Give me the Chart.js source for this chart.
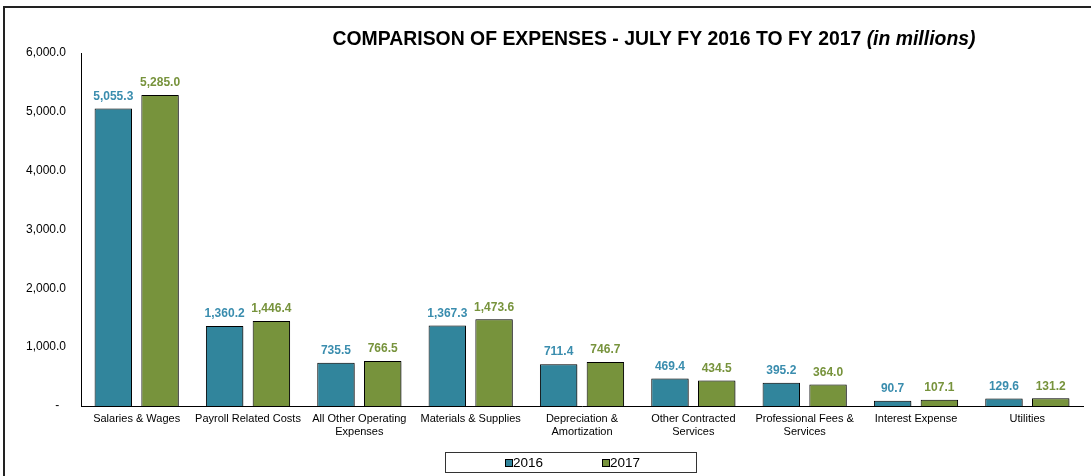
<!DOCTYPE html>
<html>
<head>
<meta charset="utf-8">
<script src="https://cdn.jsdelivr.net/npm/chart.js@4/dist/chart.umd.min.js"></script>
<style>
  html, body { margin: 0; padding: 0; background: #fff; }
  #wrap { width: 1091px; height: 476px; position: relative; }
</style>
</head>
<body>
<div id="wrap"><canvas id="expenseChart"></canvas></div>
<script>
const categories = [
  'Salaries & Wages',
  'Payroll Related Costs',
  ['All Other Operating', 'Expenses'],
  'Materials & Supplies',
  ['Depreciation &', 'Amortization'],
  ['Other Contracted', 'Services'],
  ['Professional Fees &', 'Services'],
  'Interest Expense',
  'Utilities'
];
const fy2016 = [5055.3, 1360.2, 735.5, 1367.3, 711.4, 469.4, 395.2, 90.7, 129.6];
const fy2017 = [5285.0, 1446.4, 766.5, 1473.6, 746.7, 434.5, 364.0, 107.1, 131.2];
const seriesNames = ['2016', '2017'];
const yTicks = [0, 1000, 2000, 3000, 4000, 5000, 6000];

const FONT = '"Liberation Sans", Arial, sans-serif';
const fmt = v => v.toLocaleString('en-US', { minimumFractionDigits: 1, maximumFractionDigits: 1 });

// outer frame (top + left only, like the cropped original)
const framePlugin = {
  id: 'frame',
  beforeDraw(chart) {
    const c = chart.ctx;
    c.save();
    c.strokeStyle = '#222';
    c.lineWidth = 2;
    c.beginPath();
    c.moveTo(4, chart.height);
    c.lineTo(4, 7);
    c.lineTo(chart.width, 7);
    c.stroke();
    c.restore();
  }
};

// title with italic tail
const titlePlugin = {
  id: 'mixedTitle',
  afterDraw(chart) {
    const c = chart.ctx;
    const a = 'COMPARISON OF EXPENSES - JULY FY 2016 TO FY 2017 ';
    const b = '(in millions)';
    c.save();
    c.fillStyle = '#000';
    c.textBaseline = 'alphabetic';
    c.font = 'bold 19.4px ' + FONT;
    const wa = c.measureText(a).width;
    c.font = 'italic bold 19.4px ' + FONT;
    const wb = c.measureText(b).width;
    let x = 654 - (wa + wb) / 2;
    c.font = 'bold 19.4px ' + FONT;
    c.fillText(a, x, 45);
    c.font = 'italic bold 19.4px ' + FONT;
    c.fillText(b, x + wa, 45);
    c.restore();
  }
};

// light shadow behind bars
const shadowPlugin = {
  id: 'barShadow',
  beforeDatasetsDraw(chart) {
    const c = chart.ctx;
    c.save();
    c.shadowColor = 'rgba(0,0,0,0.35)';
    c.shadowOffsetX = 2;
    c.shadowOffsetY = 1;
    c.shadowBlur = 2;
  },
  afterDatasetsDraw(chart) {
    chart.ctx.restore();
  }
};

// values above the bars
const valueLabels = {
  id: 'valueLabels',
  afterDatasetsDraw(chart) {
    const c = chart.ctx;
    c.save();
    c.font = 'bold 12px ' + FONT;
    c.textAlign = 'center';
    c.textBaseline = 'bottom';
    chart.data.datasets.forEach((ds, i) => {
      const meta = chart.getDatasetMeta(i);
      c.fillStyle = ds.labelColor;
      meta.data.forEach((bar, j) => {
        c.fillText(fmt(ds.data[j]), bar.x, bar.y - 6);
      });
    });
    c.restore();
  }
};

// boxed legend at the bottom
const boxLegend = {
  id: 'boxLegend',
  afterDraw(chart) {
    const c = chart.ctx;
    c.save();
    c.strokeStyle = '#333';
    c.lineWidth = 1;
    c.strokeRect(445.5, 452.5, 251, 20);
    c.font = '13.5px ' + FONT;
    c.textBaseline = 'middle';
    c.textAlign = 'left';
    chart.data.datasets.forEach((ds, i) => {
      const x = 505 + i * 97;
      c.fillStyle = ds.backgroundColor;
      c.fillRect(x, 459, 7, 7);
      c.strokeStyle = '#000';
      c.strokeRect(x + 0.5, 459.5, 7, 7);
      c.fillStyle = '#000';
      c.fillText(ds.label, x + 8, 463);
    });
    c.restore();
  }
};

new Chart(document.getElementById('expenseChart'), {
  type: 'bar',
  data: {
    labels: categories,
    datasets: [
      { label: seriesNames[0], data: fy2016, backgroundColor: '#31859C', labelColor: '#3A8DAE', borderColor: '#000', borderWidth: 1 },
      { label: seriesNames[1], data: fy2017, backgroundColor: '#77933C', labelColor: '#77933C', borderColor: '#000', borderWidth: 1 }
    ]
  },
  options: {
    responsive: true, maintainAspectRatio: false,
    animation: false,
    categoryPercentage: 0.84,
    barPercentage: 0.8,
    layout: { padding: { top: 53, right: 8, left: 0, bottom: 0 } },
    plugins: {
      legend: { display: false },
      title: { display: false },
      tooltip: { enabled: false }
    },
    scales: {
      x: {
        grid: { display: false, drawTicks: false },
        border: { display: true, color: '#000', width: 1 },
        ticks: { color: '#000', font: { family: FONT, size: 11 }, padding: 6, maxRotation: 0, autoSkip: false },
        afterFit: s => { s.height = 70; }
      },
      y: {
        min: 0, max: 6000,
        afterBuildTicks: s => { s.ticks = yTicks.map(v => ({ value: v })); },
        grid: { display: false, drawTicks: false },
        border: { display: true, color: '#000', width: 1 },
        ticks: {
          color: '#000', font: { family: FONT, size: 12 }, padding: 15,
          callback: v => v === 0 ? '-  ' : fmt(v)
        },
        afterFit: s => { s.width = 81; }
      }
    }
  },
  plugins: [framePlugin, titlePlugin, shadowPlugin, valueLabels, boxLegend]
});
</script>
</body>
</html>
